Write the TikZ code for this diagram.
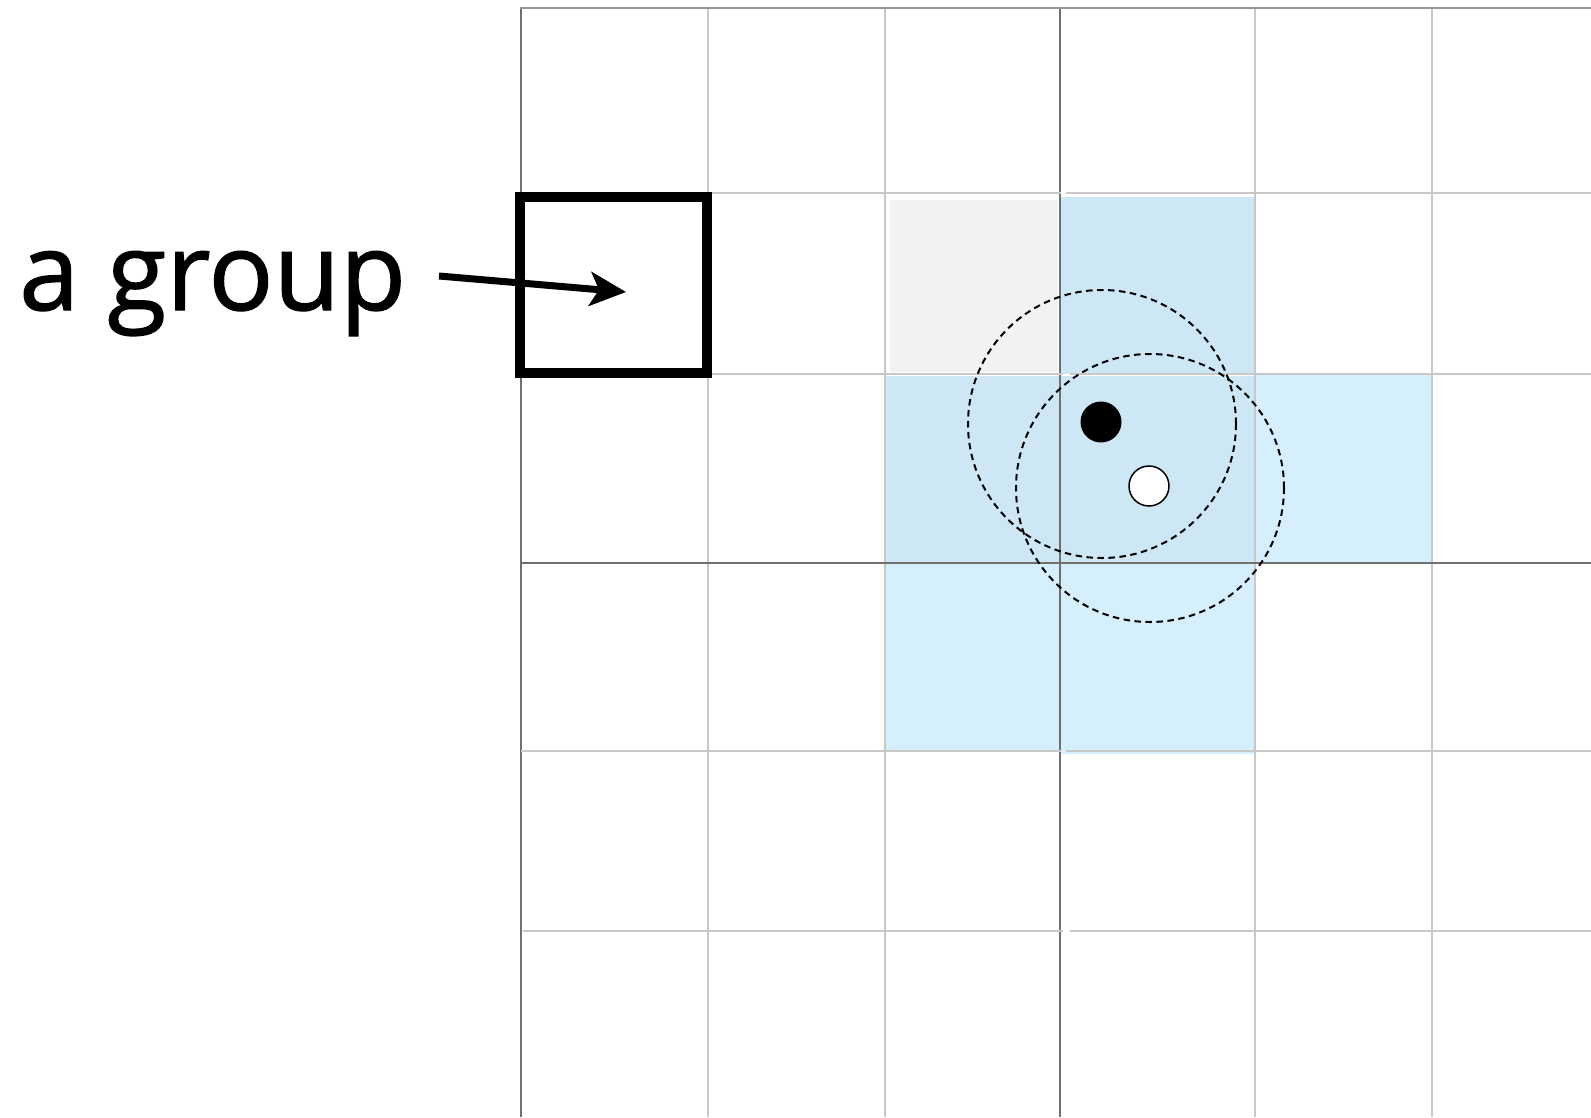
\documentclass[tikz,border=0pt]{standalone}
\usepackage{fontspec}
\setmainfont{Open Sans}
\newfontfamily\grouplabelfont[FakeBold=1.2]{Open Sans}
\usetikzlibrary{arrows.meta}
\definecolor{gridlight}{RGB}{200,200,200}
\definecolor{griddark}{RGB}{112,112,112}
\definecolor{gridtop}{RGB}{150,150,150}
\definecolor{bluedark}{RGB}{205,232,244}
\definecolor{bluelight}{RGB}{213,240,252}
\definecolor{greycell}{RGB}{242,242,242}
\begin{document}
\begin{tikzpicture}[x=1pt,y=-1pt,
  lightline/.style={draw=gridlight,line width=2pt},
  darkline/.style={draw=griddark,line width=2pt},
  radius/.style={draw=black,line width=2pt,dash pattern=on 6.5pt off 4.5pt,circle,inner sep=0pt,minimum size=268pt},
  dotblack/.style={circle,fill=black,inner sep=0pt,minimum size=41pt},
  dotwhite/.style={circle,draw=black,line width=1.5pt,fill=white,inner sep=0pt,minimum size=40pt},
  groupbox/.style={draw=black,line width=10pt,rectangle,inner sep=0pt,minimum width=187pt,minimum height=176pt},
  pointer/.style={draw=black,line width=7pt,-{Stealth[length=36pt,width=34pt,inset=9pt]}},
  labeltext/.style={font=\grouplabelfont\fontsize{108}{124}\selectfont,inner sep=0pt,anchor=base west}]
\useasboundingbox (0,0) rectangle (1591,1117);
% cell fills
\fill[greycell] (890,200) rectangle (1058,372);
\fill[bluedark] (1061,197) rectangle (1255,374);
\fill[bluedark] (885,376) rectangle (1255,563);
\fill[bluelight] (1255,374) rectangle (1432,563);
\fill[bluelight] (885,563) rectangle (1060,751);
\fill[bluelight] (1060,563) rectangle (1255,754);
% vertical grid lines
\foreach \x in {708,885,1255,1432} \draw[lightline] (\x,8) -- (\x,1117);
\foreach \x in {520.5,1060} \draw[darkline] (\x,8) -- (\x,1117);
% horizontal grid lines
\draw[draw=gridtop,line width=2pt] (520,8) -- (1591,8);
\draw[lightline] (521,193) -- (1061,193);
\draw[lightline] (1066,193) -- (1591,193);
\draw[lightline] (521,374) -- (1063,374);
\draw[lightline] (1070,374) -- (1591,374);
\draw[darkline] (521,563) -- (1591,563);
\draw[lightline] (521,751) -- (1061,751);
\draw[lightline] (1066,751) -- (1591,751);
\draw[lightline] (523,931) -- (1063,931);
\draw[lightline] (1070,931) -- (1591,931);
% dashed radii
\node[radius] (rangeA) at (1102,424) {};
\node[radius] (rangeB) at (1150,488) {};
% points
\node[dotblack] (pointA) at (1101,422) {};
\node[dotwhite] (pointB) at (1149,486) {};
% group box
\node[groupbox] (grp) at (613.5,285) {};
% label and arrow
\node[labeltext] (label) at (19,310) {a group};
\coordinate (arrowstart) at (439,276);
\coordinate (arrowtip) at (626,292);
\draw[pointer] (arrowstart) -- (arrowtip);
\end{tikzpicture}
\end{document}
